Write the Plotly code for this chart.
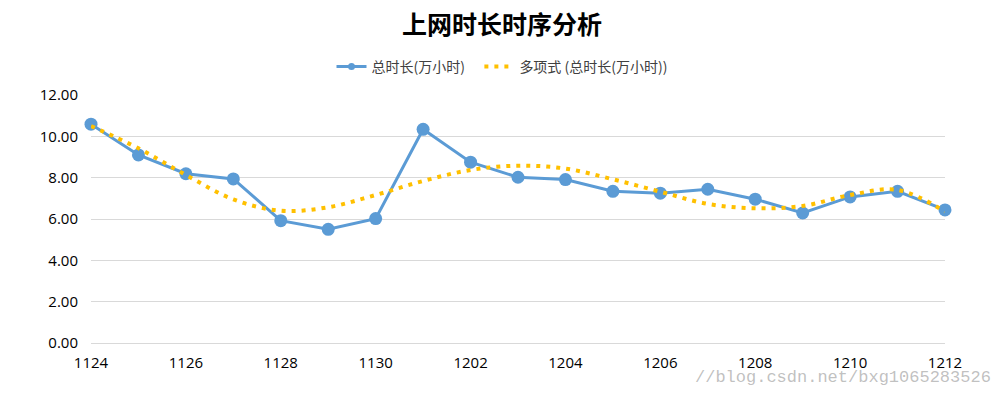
import plotly.graph_objects as go

categories = ["1124", "1125", "1126", "1127", "1128", "1129", "1130",
              "1201", "1202", "1203", "1204", "1205", "1206", "1207",
              "1208", "1209", "1210", "1211", "1212"]
total_hours = [10.59, 9.10, 8.19, 7.94, 5.92, 5.50, 6.02,
               10.34, 8.75, 8.02, 7.91, 7.34, 7.25, 7.44,
               6.96, 6.29, 7.07, 7.34, 6.44]
trend_values = [10.50, 9.42, 8.13, 6.95, 6.40, 6.57, 7.16,
                7.84, 8.37, 8.58, 8.44, 7.92, 7.32, 6.73,
                6.52, 6.63, 7.16, 7.41, 6.36]
x_tick_labels = categories[::2]
y_tick_values = [0, 2, 4, 6, 8, 10, 12]
series_name = "总时长(万小时)"
trend_name = "多项式 (总时长(万小时))"

FONT = "Noto Sans CJK SC, Noto Sans, sans-serif"
TICK_FONT = "Open Sans, Noto Sans, sans-serif"
BLUE = "#5B9BD5"
GOLD = "#FFC000"

fig = go.Figure()
fig.add_trace(go.Scatter(
    x=categories, y=total_hours, mode="lines+markers",
    name=series_name, showlegend=False,
    line=dict(color=BLUE, width=3),
    marker=dict(color=BLUE, size=13),
    cliponaxis=False,
))
# legend-only entry with a smaller marker, as in the reference legend
fig.add_trace(go.Scatter(
    x=[None], y=[None], mode="lines+markers",
    name=series_name + "&nbsp;&nbsp;&nbsp;",
    line=dict(color=BLUE, width=3),
    marker=dict(color=BLUE, size=7),
))
fig.add_trace(go.Scatter(
    x=categories, y=trend_values, mode="lines",
    name=trend_name,
    line=dict(color=GOLD, width=4, dash="4px,6px", shape="spline", smoothing=1.0),
    cliponaxis=False,
))

fig.update_layout(
    width=1004, height=397,
    margin=dict(l=91, r=59, t=95, b=54, autoexpand=False),
    paper_bgcolor="white", plot_bgcolor="white",
    font=dict(family=FONT, color="#404040"),
    title=dict(text="<b>上网时长时序分析</b>", x=0.5, xref="container", xanchor="center",
               y=1 - 25 / 397, yref="container", yanchor="middle",
               font=dict(size=25, color="#000000", family=FONT)),
    legend=dict(orientation="h", x=0.5, xref="container", xanchor="center",
                y=1 - 67 / 397, yref="container", yanchor="middle",
                font=dict(size=14, color="#404040"), bgcolor="rgba(0,0,0,0)"),
    showlegend=True,
)
fig.update_xaxes(
    type="category", categoryorder="array", categoryarray=categories,
    range=[0, len(categories) - 1],
    tickmode="array", tickvals=x_tick_labels, ticktext=x_tick_labels,
    showgrid=False, showline=False, zeroline=False,
    ticks="", ticklabelstandoff=9,
    tickfont=dict(size=15, color="#000000", family=TICK_FONT),
)
fig.update_yaxes(
    range=[0, 12], tickmode="array", tickvals=y_tick_values, tickformat=".2f",
    showgrid=True, gridcolor="#D9D9D9", gridwidth=1,
    zeroline=True, zerolinecolor="#D9D9D9", zerolinewidth=1,
    showline=False, ticks="", ticklabelstandoff=12,
    tickfont=dict(size=15, color="#000000", family=TICK_FONT),
)

fig.add_annotation(
    text="//blog.csdn.net/bxg1065283526", xref="paper", yref="paper",
    x=1 + 48 / 854, y=-34 / 248, xanchor="right", yanchor="middle",
    showarrow=False,
    font=dict(family="Liberation Mono, monospace", size=17, color="rgba(140,140,140,0.55)"),
)

fig.write_html("out.html", config={"displayModeBar": False},
               post_script="document.body.style.margin='0px';document.body.style.padding='0px';")
